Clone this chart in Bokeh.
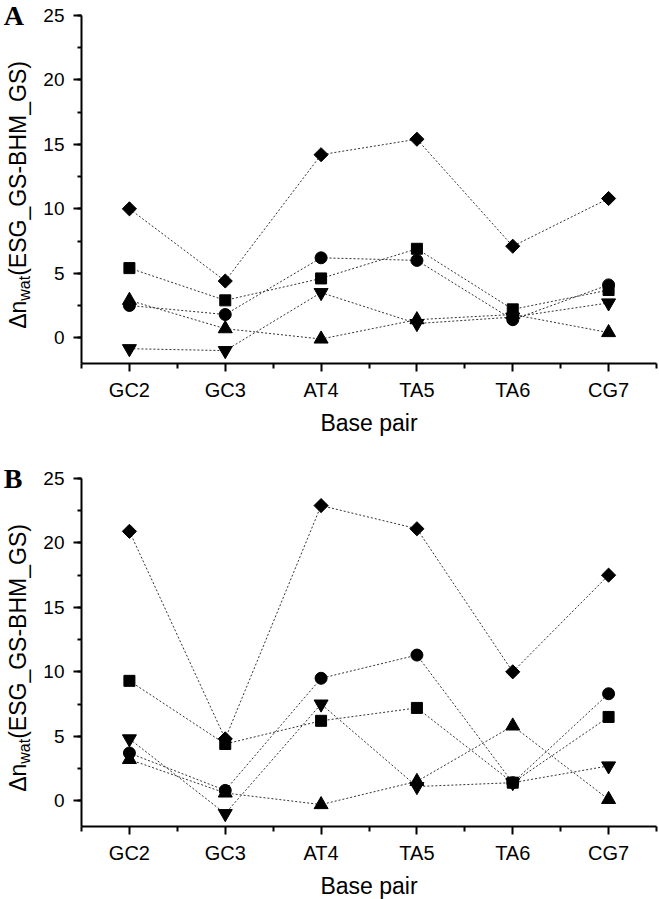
from math import pi
from bokeh.plotting import figure
from bokeh.layouts import column, row
from bokeh.models import Range1d, FixedTicker, SingleIntervalTicker, Label
from bokeh.embed import file_html
from bokeh.resources import INLINE

categories = ["GC2", "GC3", "AT4", "TA5", "TA6", "CG7"]
y_tick_interval = 5
Y_MIN, Y_MAX = -2, 25

# Panel A
a_diamond = [10.0, 4.4, 14.2, 15.4, 7.1, 10.8]
a_square = [5.4, 2.9, 4.6, 6.9, 2.2, 3.7]
a_circle = [2.5, 1.8, 6.2, 6.0, 1.4, 4.1]
a_tri_up = [2.9, 0.7, -0.1, 1.4, 1.8, 0.4]
a_tri_down = [-0.85, -1.0, 3.5, 1.1, 1.6, 2.7]

# Panel B
b_diamond = [20.9, 4.8, 22.9, 21.1, 10.0, 17.5]
b_square = [9.3, 4.4, 6.2, 7.2, 1.4, 6.5]
b_circle = [3.7, 0.8, 9.5, 11.3, 1.4, 8.3]
b_tri_up = [3.2, 0.6, -0.3, 1.5, 5.8, 0.1]
b_tri_down = [4.8, -1.0, 7.5, 1.1, 1.4, 2.7]

xs = list(range(1, len(categories) + 1))
SANS = "Liberation Sans"
LAB_W = 40
AXIS_H = 348                      # pixel height of the -2..25 span
UNIT = (Y_MAX - Y_MIN) / AXIS_H   # data units per pixel


def px_up(px):
    # pixel distance above the frame bottom -> data y
    return Y_MIN + px * UNIT


def y_range_for(top_px):
    return Range1d(Y_MIN, Y_MAX + top_px * UNIT)


def label_fig(letter, top_px, border_bottom):
    f = figure(title=None, frame_width=LAB_W, frame_height=AXIS_H + top_px,
               min_border_left=0, min_border_right=0,
               min_border_top=0, min_border_bottom=border_bottom,
               x_range=Range1d(0, LAB_W), y_range=y_range_for(top_px),
               x_axis_type=None, y_axis_type=None,
               output_backend="svg", toolbar_location=None, tools="")
    f.outline_line_color = None
    f.grid.visible = False
    common = dict(angle=pi / 2, text_align="left", text_baseline="middle",
                  text_font=SANS, text_color="black")
    start = 34.7
    f.add_layout(Label(x=17, y=px_up(start), text="Δn", text_font_size="23px", **common))
    f.add_layout(Label(x=23.5, y=px_up(start + 28.1), text="wat", text_font_size="16px", **common))
    f.add_layout(Label(x=17, y=px_up(start + 53.0), text="(ESG_GS-BHM_GS)",
                       text_font_size="23px", **common))
    f.add_layout(Label(x=3.3, y=px_up(AXIS_H + 0.5), text=letter,
                       text_align="left", text_baseline="middle",
                       text_font="Liberation Serif", text_font_style="bold",
                       text_font_size="28px", text_color="black"))
    return f


def build(series, top_px, border_bottom, xlabel_standoff):
    p = figure(title=None, frame_width=575, frame_height=AXIS_H + top_px,
               min_border_left=81 - LAB_W, min_border_right=3,
               min_border_top=0, min_border_bottom=border_bottom,
               x_range=Range1d(0.5, 6.5), y_range=y_range_for(top_px),
               output_backend="svg", toolbar_location=None, tools="")
    p.outline_line_color = None
    p.grid.visible = False
    for vals, marker, size, angle in series:
        p.line(xs, vals, line_color="#333333", line_width=1, line_dash="2 2")
    for vals, marker, size, angle in series:
        p.scatter(xs, vals, marker=marker, size=size, angle=angle,
                  fill_color="black", line_color="black")
    xa = p.xaxis[0]
    xa.ticker = FixedTicker(ticks=xs, minor_ticks=[x - 0.5 for x in xs] + [xs[-1] + 0.5])
    xa.major_label_overrides = {x: c for x, c in zip(xs, categories)}
    xa.axis_label = "Base pair"
    ya = p.yaxis[0]
    ya.ticker = SingleIntervalTicker(interval=y_tick_interval, num_minor_ticks=2)
    ya.bounds = (Y_MIN, Y_MAX)
    for ax in (xa, ya):
        ax.axis_line_width = 2
        ax.axis_line_color = "black"
        ax.major_tick_line_width = 2
        ax.minor_tick_line_width = 2
        ax.major_tick_in = 0
        ax.minor_tick_in = 0
        ax.major_tick_out = 8
        ax.major_label_text_font = SANS
        ax.major_label_text_color = "black"
        ax.axis_label_text_font = SANS
        ax.axis_label_text_font_size = "23px"
        ax.axis_label_text_font_style = "normal"
        ax.axis_label_text_color = "black"
    xa.major_label_text_font_size = "20px"
    ya.major_label_text_font_size = "19px"
    xa.minor_tick_out = 5
    ya.minor_tick_out = 4
    xa.major_label_standoff = 7
    ya.major_label_standoff = 9
    xa.axis_label_standoff = xlabel_standoff
    return p


series_a = [(a_diamond, "square", 10, pi / 4), (a_square, "square", 11, 0),
            (a_circle, "circle", 12, 0), (a_tri_up, "triangle", 14, 0),
            (a_tri_down, "inverted_triangle", 14, 0)]
series_b = [(b_diamond, "square", 10, pi / 4), (b_square, "square", 11, 0),
            (b_circle, "circle", 12, 0), (b_tri_up, "triangle", 14, 0),
            (b_tri_down, "inverted_triangle", 14, 0)]

HA, HB = 460, 439
TOP_A, TOP_B = 15, 18
BOT_A, BOT_B = HA - TOP_A - AXIS_H, HB - TOP_B - AXIS_H

pa = build(series_a, TOP_A, BOT_A, 6)
pb = build(series_b, TOP_B, BOT_B, 6)
la = label_fig("A", TOP_A, BOT_A)
lb = label_fig("B", TOP_B, BOT_B)

layout = column(row(la, pa), row(lb, pb))
open("out.html", "w").write(file_html(layout, INLINE))
